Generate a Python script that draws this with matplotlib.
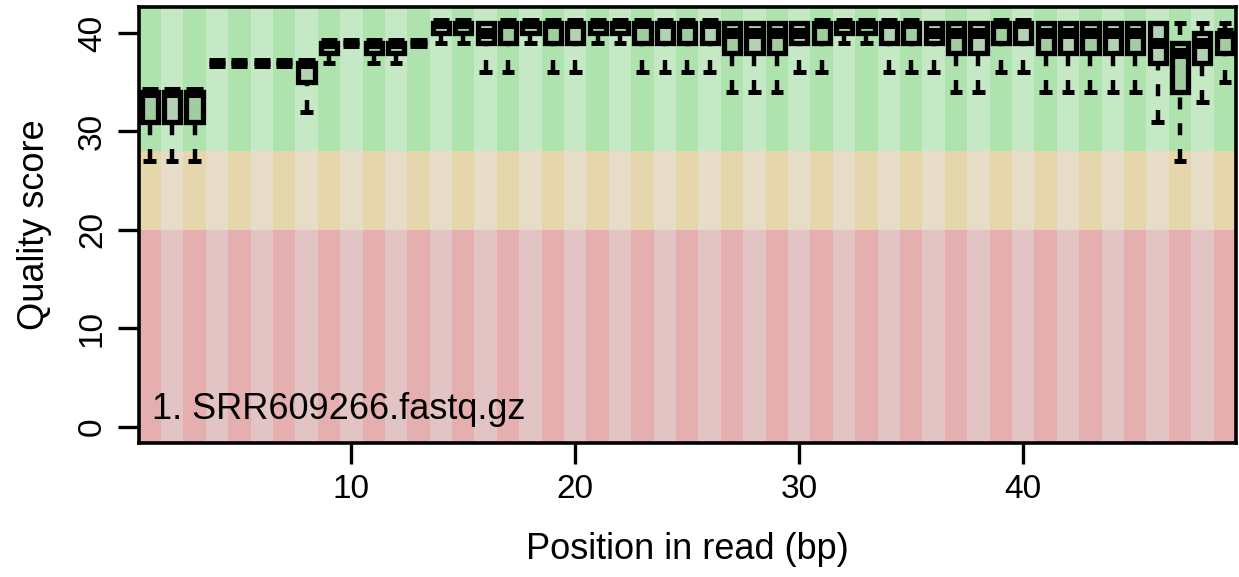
import matplotlib
matplotlib.use('Agg')
import matplotlib.pyplot as plt
import numpy as np

plt.rcParams['font.family'] = ['Liberation Sans', 'DejaVu Sans']

# per-position quality summary (min, q1, median, q3, max)
positions = list(range(1, 50))
q_min = [27, 27, 27, 37, 37, 37, 37, 32, 37, 39, 37, 37, 39, 39, 39, 36, 36, 39, 36, 36,
         39, 39, 36, 36, 36, 36, 34, 34, 34, 36, 36, 39, 39, 36, 36, 36, 34, 34, 36, 36,
         34, 34, 34, 34, 34, 31, 27, 33, 35]
q_q1 = [31, 31, 31, 37, 37, 37, 37, 35, 38, 39, 38, 38, 39, 40, 40, 39, 39, 40, 39, 39,
        40, 40, 39, 39, 39, 39, 38, 38, 38, 39, 39, 40, 40, 39, 39, 39, 38, 38, 39, 39,
        38, 38, 38, 38, 38, 37, 34, 37, 38]
q_med = [34, 34, 34, 37, 37, 37, 37, 37, 39, 39, 39, 39, 39, 41, 41, 40, 41, 41, 41, 41,
         41, 41, 41, 41, 41, 41, 40, 40, 40, 40, 41, 41, 41, 41, 41, 40, 40, 40, 41, 41,
         40, 40, 40, 40, 40, 39, 38, 39, 40]
q_q3 = [34, 34, 34, 37, 37, 37, 37, 37, 39, 39, 39, 39, 39, 41, 41, 41, 41, 41, 41, 41,
        41, 41, 41, 41, 41, 41, 41, 41, 41, 41, 41, 41, 41, 41, 41, 41, 41, 41, 41, 41,
        41, 41, 41, 41, 41, 41, 39, 40, 40]
q_max = [34, 34, 34, 37, 37, 37, 37, 37, 39, 39, 39, 39, 39, 41, 41, 41, 41, 41, 41, 41,
         41, 41, 41, 41, 41, 41, 41, 41, 41, 41, 41, 41, 41, 41, 41, 41, 41, 41, 41, 41,
         41, 41, 41, 41, 41, 41, 41, 41, 41]

# quality zones: (low, high, dark stripe, light stripe)
zones = [(-5, 20, '#E5AFB0', '#E3C4C4'),
         (20, 28, '#E6D6AC', '#E6DCC8'),
         (28, 50, '#AEE3AE', '#C5E8C5')]

sample_label = '1. SRR609266.fastq.gz'

fig = plt.figure(figsize=(12.39, 5.77), dpi=100)
ax = fig.add_axes([0.1118, 0.2322, 0.8858, 0.7556])

pos = np.array(positions)
for lo, hi, dark, light in zones:
    cols = [dark if p % 2 == 1 else light for p in positions]
    ax.bar(pos, hi - lo, bottom=lo, width=1.0, color=cols, linewidth=0, zorder=0)

stats = []
for i in range(len(positions)):
    stats.append({'whislo': q_min[i], 'q1': q_q1[i], 'med': q_med[i],
                  'q3': q_q3[i], 'whishi': q_max[i]})

bp = ax.bxp(stats, positions=positions, widths=0.72, capwidths=0.56,
            showfliers=False, patch_artist=True, manage_ticks=False,
            boxprops=dict(facecolor=(0.42, 0.42, 0.42, 0.18), edgecolor='black', linewidth=3.8),
            medianprops=dict(color='black', linewidth=7.9, solid_capstyle='butt'),
            whiskerprops=dict(color='black', linewidth=3.2, linestyle=(0, (2.7, 3.1)),
                              dash_capstyle='butt'),
            capprops=dict(color='black', linewidth=3.6, solid_capstyle='butt'))

# draw whiskers from the staple towards the box, like R does
for w in bp['whiskers']:
    xs, ys = w.get_data()
    w.set_data(xs[::-1], ys[::-1])

ax.text(1.1, 1.8, sample_label, fontsize=26, ha='left', va='center', zorder=5)

ax.set_xlim(0.5, 49.5)
ax.set_ylim(-1.64, 42.64)
ax.set_xticks([10, 20, 30, 40])
ax.set_yticks([0, 10, 20, 30, 40])
ax.tick_params(axis='both', labelsize=24, length=15, width=2.4, pad=7)
for lab in ax.get_yticklabels():
    lab.set_rotation(90)
    lab.set_va('center')
for sp in ax.spines.values():
    sp.set_linewidth(2.6)
    sp.set_zorder(6)

ax.set_xlabel('Position in read (bp)', fontsize=26, labelpad=20)
ax.set_ylabel('Quality score', fontsize=26, labelpad=18)

plt.savefig('out.png', dpi=100)
plt.close()
